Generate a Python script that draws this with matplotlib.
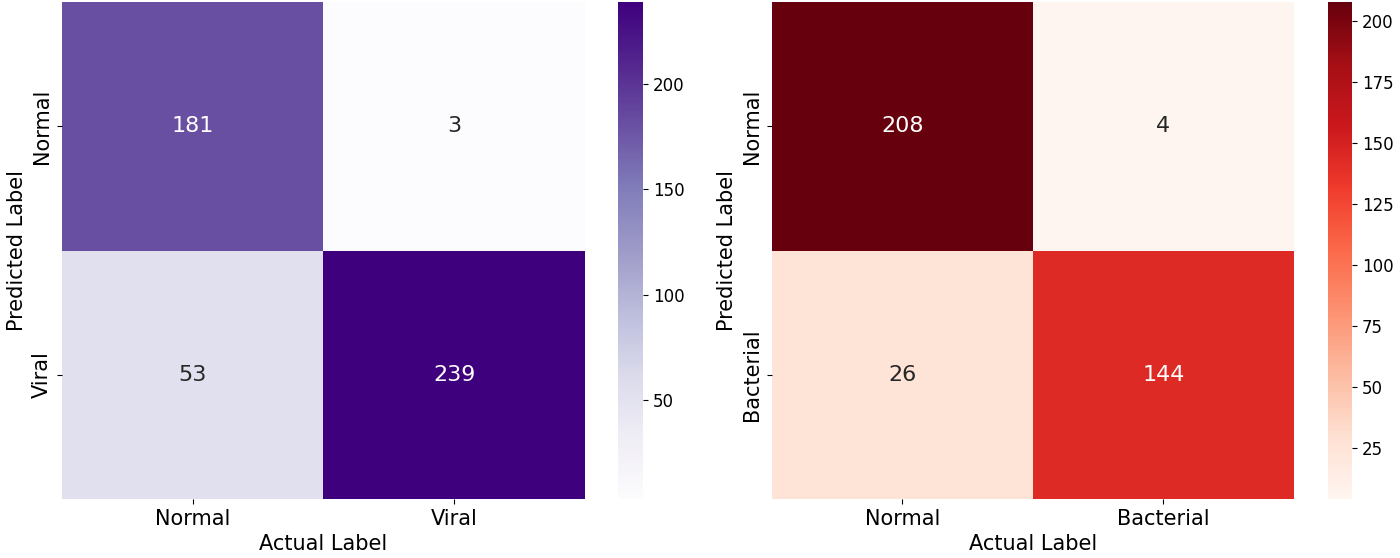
import numpy as np
import matplotlib
matplotlib.use("Agg")
import matplotlib.pyplot as plt
import seaborn as sns

# confusion matrices (rows = predicted, cols = actual)
viral_labels = ["Normal", "Viral"]
viral_cm = np.array([[181, 3],
                     [53, 239]])

bact_labels = ["Normal", "Bacterial"]
bact_cm = np.array([[208, 4],
                    [26, 144]])

W, H = 1400, 558
fig = plt.figure(figsize=(14, 5.58), dpi=100)


def box(x0, y_top, w, h):
    return [x0 / W, (H - y_top - h) / H, w / W, h / H]


def draw(cm, labels, cmap, ax_box, cb_box):
    ax = fig.add_axes(box(*ax_box))
    cax = fig.add_axes(box(*cb_box))
    sns.heatmap(cm, annot=True, fmt="d", cmap=cmap, ax=ax, cbar_ax=cax,
                xticklabels=labels, yticklabels=labels,
                annot_kws={"fontsize": 16})
    ax.set_xlabel("Actual Label", fontsize=15)
    ax.set_ylabel("Predicted Label", fontsize=15)
    ax.tick_params(axis="both", labelsize=15)
    cax.tick_params(labelsize=12)
    return ax


draw(viral_cm, viral_labels, "Purples", (62, 2, 523, 497), (618, 2, 25, 497))
draw(bact_cm, bact_labels, "Reds", (772, 2, 522, 497), (1328, 2, 24, 497))

fig.savefig("out.png", dpi=100)
